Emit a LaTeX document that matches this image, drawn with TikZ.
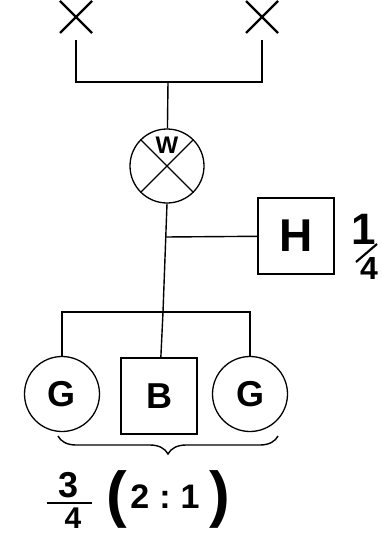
\documentclass[tikz,border=0pt]{standalone}
\usepackage{fontspec}
\setmainfont{Liberation Sans}
\usepackage{tikz}
\usetikzlibrary{
    shapes.misc,
    decorations.pathreplacing,
    calc
}
\tikzset{
    wire/.style={line width=1.4pt},
    endmark/.style={cross out, draw, line width=2.4pt, minimum size=32pt, inner sep=0pt, outer sep=0pt},
    meter/.style={circle, draw, line width=1.3pt, minimum size=74pt, inner sep=0pt},
    unitbox/.style={rectangle, draw, line width=1.3pt, minimum width=76pt, minimum height=76pt, inner sep=0pt},
    unitcirc/.style={circle, draw, line width=1.3pt, minimum size=75pt, inner sep=0pt},
    lettr/.style={font=\bfseries\fontsize{36}{36}\selectfont, inner sep=0pt},
    numtxt/.style={font=\bfseries\fontsize{#1}{#1}\selectfont, inner sep=0pt}
}
\begin{document}
\begin{tikzpicture}[x=1pt, y=-1pt]
    \useasboundingbox (0,0) rectangle (381,535);

    % Ends
    \node[endmark] (xl) at (76,17) {};
    \node[endmark] (xr) at (262,17) {};
    \coordinate (top) at (168,82);
    \draw[wire, shorten <=7pt, shorten >=7pt] (xl.south) |- (top) -| (xr.south);

    % Meter
    \node[meter] (w) at (167,166) {};
    \draw[wire] (w.north west) -- (w.south east);
    \draw[wire] (w.north east) -- (w.south west);
    \node[numtxt=24] (wl) at (167,145) {W};
    \draw[wire] (top) -- (w);

    % Branch H
    \coordinate (bus) at (163,312);
    \coordinate (hj) at (165,237);
    \node[unitbox] (h) at (296,236) {};
    \node[numtxt=46] (hl) at (h) {H};
    \node[numtxt=44] (q1) at (364,229) {1};
    \node[numtxt=32] (q4) at (369,268) {4};
    \draw[line width=2.2pt] (356,262) -- (377,244);
    \draw[wire] (w.south) -- (bus);
    \draw[wire] (hj) -- (h);

    % Lower units
    \node[unitcirc] (gl) at (62,394) {};
    \node[unitbox] (b) at (159,396) {};
    \node[unitcirc] (gr) at (250,394) {};
    \node[lettr] at (gl) {G};
    \node[lettr] at (b) {B};
    \node[lettr] at (gr) {G};
    \draw[wire] (gl) |- (bus) -| (gr);
    \draw[wire] (bus) -- (b);

    % Share
    \draw[wire, decorate, decoration={brace, mirror, amplitude=18pt}] (58,436) -- (278,436);
    \node[numtxt=36] (n3) at (69,485) {3};
    \node[numtxt=30] (n4) at (73,518) {4};
    \draw[line width=2pt] (47,503) -- (92,503);
    \node[numtxt=62] (lp) at (117,499) {(};
    \node[numtxt=34] (ra) at (165,497) {2\hspace{10pt}:\hspace{10pt}1};
    \node[numtxt=62] (rp) at (220,499) {)};
\end{tikzpicture}
\end{document}
